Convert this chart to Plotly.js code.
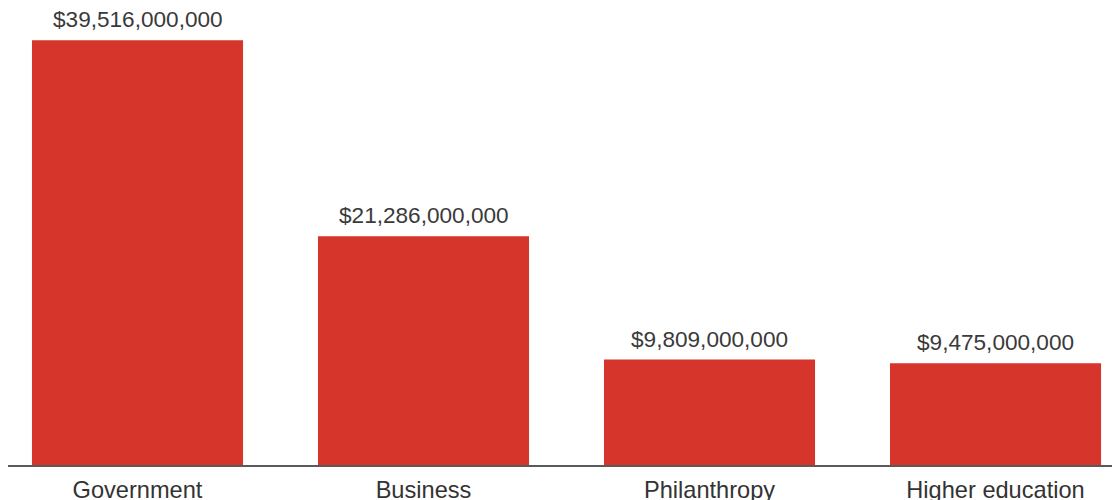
<!DOCTYPE html>
<html>
<head>
<meta charset="utf-8">
<script src="https://cdn.plot.ly/plotly-3.0.1.min.js"></script>
<style>html,body{margin:0;padding:0;background:#fff;}#chart{width:1112px;height:500px;}</style>
</head>
<body>
<div id="chart"></div>
<script>
const categories = ["Government", "Business", "Philanthropy", "Higher education"];
const funding = [39516000000, 21286000000, 9809000000, 9475000000];
const valueLabels = funding.map(v => "$" + v.toLocaleString("en-US"));

const trace = {
  type: "bar",
  x: categories,
  y: funding,
  marker: {color: "#d6352b"},
  width: 0.738,
  hoverinfo: "none"
};

const annotations = categories.map((c, i) => ({
  x: c,
  y: funding[i],
  xref: "x",
  yref: "y",
  text: valueLabels[i],
  showarrow: false,
  yanchor: "bottom",
  yshift: 6,
  font: {family: "Liberation Sans, Arial, sans-serif", size: 22.6, color: "#3a3a3a"}
}));

const layout = {
  width: 1112,
  height: 500,
  margin: {l: 8, r: 0, t: 0, b: 35},
  paper_bgcolor: "#ffffff",
  plot_bgcolor: "#ffffff",
  showlegend: false,
  font: {family: "Liberation Sans, Arial, sans-serif", color: "#333333"},
  annotations: annotations,
  xaxis: {
    type: "category",
    range: [-0.4528, 3.4073],
    showline: true,
    linecolor: "#5a5a5a",
    linewidth: 2,
    ticks: "",
    ticklabelstandoff: 3,
    tickfont: {size: 23.6, color: "#333333"},
    showgrid: false,
    zeroline: false
  },
  yaxis: {
    range: [0, 43.26e9],
    visible: false,
    showgrid: false,
    zeroline: false
  }
};

Plotly.newPlot("chart", [trace], layout, {staticPlot: true, displayModeBar: false});
</script>
</body>
</html>
